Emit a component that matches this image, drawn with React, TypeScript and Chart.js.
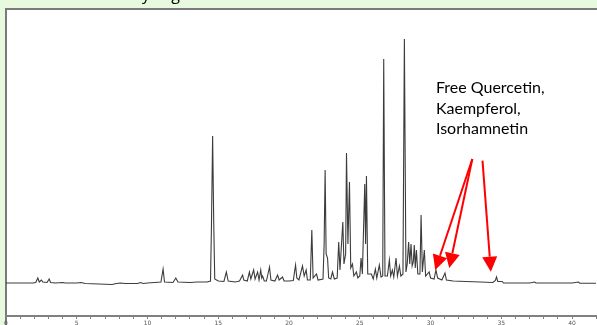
import React, { useEffect, useRef } from "react";
import { Chart, registerables } from "chart.js";

Chart.register(...registerables);

// Retention time (min)
const times = [
  0.0, 1.9, 2.1, 2.25, 2.35, 2.5, 2.6, 2.9, 3.05, 3.15, 3.5, 4.0, 4.2, 5.0, 5.3, 5.6,
  7.5, 7.8, 8.1, 8.4, 9.3, 9.5, 9.7, 10.0, 10.5, 10.95, 11.1, 11.2, 11.8, 12.0, 12.15,
  13.0, 13.5, 14.2, 14.45, 14.52, 14.6, 14.68, 14.75, 15.0, 15.4, 15.57, 15.7, 16.2,
  16.5, 16.72, 16.8, 17.05, 17.2, 17.3, 17.5, 17.6, 17.78, 17.88, 18.0, 18.07, 18.13,
  18.25, 18.4, 18.62, 18.72, 19.0, 19.19, 19.3, 19.54, 19.65, 20.0, 20.3, 20.46, 20.55,
  20.7, 20.95, 21.07, 21.21, 21.3, 21.5, 21.61, 21.7, 21.94, 22.05, 22.4, 22.48, 22.55,
  22.62, 22.72, 22.8, 22.95, 23.07, 23.2, 23.4, 23.51, 23.6, 23.8, 23.88, 24.0, 24.06,
  24.16, 24.27, 24.36, 24.48, 24.58, 24.76, 24.86, 25.0, 25.09, 25.18, 25.35, 25.41,
  25.47, 25.56, 25.82, 25.95, 26.1, 26.2, 26.38, 26.5, 26.62, 26.69, 26.78, 26.95,
  27.09, 27.18, 27.3, 27.4, 27.56, 27.66, 27.8, 27.9, 28.05, 28.15, 28.26, 28.35, 28.45,
  28.53, 28.62, 28.7, 28.78, 28.85, 28.92, 29.0, 29.1, 29.25, 29.33, 29.42, 29.56, 29.65,
  29.9, 30.0, 30.25, 30.38, 30.5, 30.8, 31.02, 31.12, 31.6, 32.5, 33.5, 34.4, 34.58,
  34.66, 34.75, 35.06, 35.15, 37.0, 37.35, 37.45, 40.0, 40.45, 40.55, 42.0,
];

// Detector signal (arbitrary units)
const signal = [
  1, 1, 1.5, 6, 2, 4, 2, 1.5, 5, 1.5, 1, 1.5, 1, 1, 1.5, 0.5,
  -0.5, 0.5, 1, 0.5, 0.5, 1.5, 0.5, 1, 1.5, 2, 15, 2, 1.5, 6, 2,
  1.5, 2, 2, 3, 60, 148, 60, 5, 3, 2.5, 12, 3, 2,
  3, 9, 4, 3, 12, 5, 14, 5, 12, 4, 14, 6, 8,
  3, 3, 17, 4, 3, 9, 4, 7, 3, 3, 3.5, 19, 6,
  4, 18, 8, 14, 4, 4, 54, 6, 10, 4, 5, 40, 114,
  30, 26, 6, 5, 12, 5, 6, 42, 14, 62, 20, 30, 131,
  40, 102, 16, 20, 8, 12, 6, 8, 26, 10, 100, 40,
  108, 10, 10, 5, 15, 6, 19, 7, 8, 225, 8, 8,
  24, 8, 14, 7, 26, 8, 18, 8, 10, 245, 12, 20, 42,
  20, 40, 18, 22, 39, 16, 34, 10, 10, 69, 12, 34, 8,
  12, 6, 5, 14, 6, 4, 11, 4, 3, 2.5, 2, 1.5, 3.5,
  7, 2.5, 2.5, 1, 1, 2, 1, 1, 2, 0.8, 0.8,
];

const majorTicks = [0, 5, 10, 15, 20, 25, 30, 35, 40];

const titleText = "HPLC-UV analyzing free flavonol contents in the extracts";
const annotationLines = ["Free Quercetin,", "Kaempferol,", "Isorhamnetin"];
const annotationAnchor = [30.38, 190.7]; // time, signal of first text baseline
// [fromTime, fromSignal, toTime, toSignal]
const arrowFrom = [
  [32.95, 125],
  [32.95, 125],
  [33.67, 123.3],
];
const arrowTo = [
  [30.33, 14],
  [31.32, 16],
  [34.26, 12.3],
];

const BG = "#e7f9df";

const framePlugin = {
  id: "frame",
  beforeDraw(chart: any) {
    const { ctx, width, height, chartArea } = chart;
    ctx.save();
    ctx.fillStyle = BG;
    ctx.fillRect(0, 0, width, height);
    ctx.fillStyle = "#ffffff";
    ctx.fillRect(chartArea.left, chartArea.top - 1, width - chartArea.left, height);
    ctx.strokeStyle = "#7a7a7a";
    ctx.lineWidth = 2;
    ctx.beginPath();
    ctx.moveTo(chartArea.left, height);
    ctx.lineTo(chartArea.left, chartArea.top - 1);
    ctx.lineTo(width, chartArea.top - 1);
    ctx.stroke();
    ctx.fillStyle = "#000000";
    ctx.font = "16px 'Open Sans'";
    ctx.textBaseline = "alphabetic";
    ctx.fillText(titleText, 40, -0.5);
    ctx.restore();
  },
  afterDraw(chart: any) {
    const { ctx, scales } = chart;
    const xs = scales.x;
    const ys = scales.y;
    ctx.save();
    ctx.fillStyle = "#000000";
    ctx.font = "16px Lato";
    ctx.textBaseline = "alphabetic";
    const tx = xs.getPixelForValue(annotationAnchor[0]);
    const ty = ys.getPixelForValue(annotationAnchor[1]);
    annotationLines.forEach((line, i) => ctx.fillText(line, tx, ty + i * 20.3));

    ctx.strokeStyle = "#ff0000";
    ctx.fillStyle = "#ff0000";
    ctx.lineWidth = 2;
    arrowFrom.forEach((f, i) => {
      const x1 = xs.getPixelForValue(f[0]);
      const y1 = ys.getPixelForValue(f[1]);
      const x2 = xs.getPixelForValue(arrowTo[i][0]);
      const y2 = ys.getPixelForValue(arrowTo[i][1]);
      const ang = Math.atan2(y2 - y1, x2 - x1);
      const headLen = 15;
      const headHalf = 7.5;
      const bx = x2 - headLen * Math.cos(ang);
      const by = y2 - headLen * Math.sin(ang);
      ctx.beginPath();
      ctx.moveTo(x1, y1);
      ctx.lineTo(bx, by);
      ctx.stroke();
      ctx.beginPath();
      ctx.moveTo(x2, y2);
      ctx.lineTo(bx + headHalf * Math.sin(ang), by - headHalf * Math.cos(ang));
      ctx.lineTo(bx - headHalf * Math.sin(ang), by + headHalf * Math.cos(ang));
      ctx.closePath();
      ctx.fill();
    });
    ctx.restore();
  },
};

export default function App() {
  const canvasRef = useRef<HTMLCanvasElement | null>(null);

  useEffect(() => {
    if (!canvasRef.current) return;
    const chart = new Chart(canvasRef.current, {
      type: "line",
      data: {
        datasets: [
          {
            data: times.map((t, i) => ({ x: t, y: signal[i] })),
            borderColor: "#3c3c3c",
            borderWidth: 1.1,
            pointRadius: 0,
            tension: 0,
            fill: false,
          },
        ],
      },
      options: {
        animation: false,
        responsive: false,
        devicePixelRatio: 1,
        layout: { padding: { left: 6, top: 10, right: 0, bottom: 0 } },
        plugins: { legend: { display: false }, tooltip: { enabled: false } },
        scales: {
          x: {
            type: "linear",
            min: 0,
            max: 41.69,
            afterFit: (scale: any) => {
              scale.height = 9;
            },
            ticks: {
              stepSize: 1,
              autoSkip: false,
              maxRotation: 0,
              padding: 1,
              font: { size: 6, family: "DejaVu Sans" },
              color: "#555555",
              callback: (v: any) => (majorTicks.includes(Number(v)) ? String(v) : ""),
            },
            grid: {
              drawOnChartArea: false,
              drawTicks: true,
              tickLength: 3,
              color: "#808080",
            },
            border: { display: true, color: "#808080", width: 2 },
          },
          y: {
            display: false,
            min: -32,
            max: 274,
          },
        },
      },
      plugins: [framePlugin],
    });
    return () => chart.destroy();
  }, []);

  return (
    <div
      style={{
        position: "fixed",
        left: 0,
        top: 0,
        width: 597,
        height: 325,
        background: BG,
        overflow: "hidden",
      }}
    >
      <canvas ref={canvasRef} width={597} height={325} style={{ display: "block" }} />
    </div>
  );
}
